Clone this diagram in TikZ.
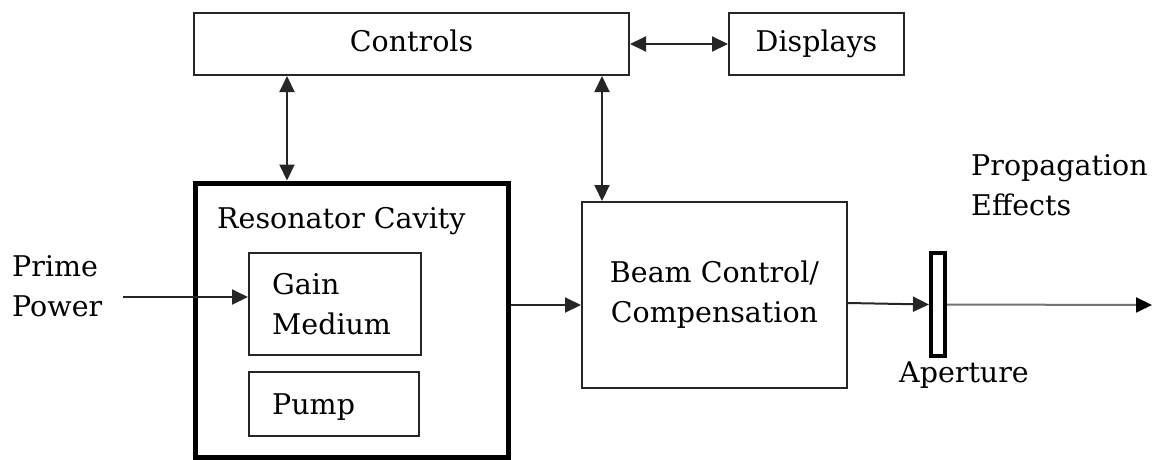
\documentclass[tikz,border=0pt]{standalone}
\usepackage{fontspec}
\setmainfont{DejaVu Serif}
\usetikzlibrary{arrows.meta}
\begin{document}
\begin{tikzpicture}[x=1pt,y=-1pt,
  every node/.style={font=\fontsize{28.5}{40}\selectfont, inner sep=0pt},
  blk/.style={draw=black!85, line width=2pt, rectangle},
  conn/.style={draw=black!85, line width=2pt},
  tip/.style={-{Triangle[length=16pt,width=15pt]}},
  tips/.style={{Triangle[length=16pt,width=15pt]}-{Triangle[length=16pt,width=15pt]}}]
\useasboundingbox (0,0) rectangle (1155,459);
\node[blk, minimum width=435pt, minimum height=62pt, text height=21pt, text depth=6pt] (ctl) at (411.5,44) {Controls};
\node[blk, minimum width=175pt, minimum height=62pt, text height=21pt, text depth=6pt] (disp) at (816.5,44) {Displays};
\node[draw=black, line width=5pt, minimum width=313pt, minimum height=274pt] (res) at (351.5,320) {};
\node[anchor=base west] (restxt) at (217,228) {Resonator Cavity};
\node[blk, minimum width=172pt, minimum height=102pt] (gain) at (335,304) {};
\node[anchor=west, align=left] (gaintxt) at (272,304) {Gain\\Medium};
\node[blk, minimum width=170pt, minimum height=64pt] (pump) at (334,404) {};
\node[anchor=base west] (pumptxt) at (272,414) {Pump};
\node[blk, minimum width=265pt, minimum height=186pt, align=center] (beam) at (714.5,295) {Beam Control/\\Compensation};
\node[draw=black, line width=4pt, minimum width=14pt, minimum height=103pt] (ap) at (938,304.5) {};
\node[anchor=base] (aptxt) at (964,382) {Aperture};
\node[anchor=west, align=left] (prop) at (971,185) {Propagation\\Effects};
\node[anchor=west, align=left] (prime) at (12,286) {Prime\\Power};
\coordinate (ppstart) at (123,297);
\coordinate (outend) at (1152,305);
\draw[conn, tips] (ctl.east) -- (disp.west);
\draw[conn, tips] (ctl.south -| 287,0) -- (res.north -| 287,0);
\draw[conn, tips] (ctl.south -| 602,0) -- (beam.north -| 602,0);
\draw[conn, tip] (ppstart) -- (ppstart -| gain.west);
\draw[conn, tip] (res.east |- 0,305) -- (beam.west |- 0,305);
\draw[conn, tip] (beam.east |- 0,303) -- (ap.west);
\draw[draw=black!55, line width=2pt, -{Triangle[length=16pt,width=15pt,fill=black,color=black]}] (ap.east) -- (outend);
\end{tikzpicture}
\end{document}
